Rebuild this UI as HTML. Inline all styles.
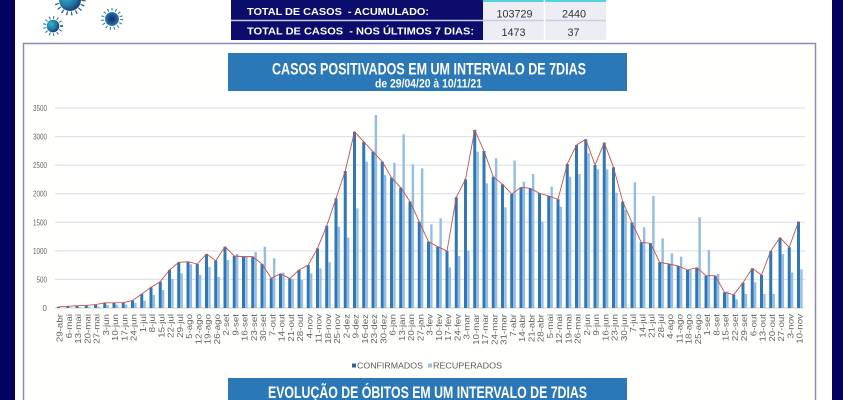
<!DOCTYPE html>
<html><head><meta charset="utf-8"><style>
html,body{margin:0;padding:0;background:#fff;width:843px;height:400px;overflow:hidden}
svg{display:block}
text{font-family:"Liberation Sans",Arial,sans-serif}
.xl{font-size:8px;fill:#626262;text-anchor:end}
.yl{font-size:8px;fill:#666;text-anchor:end}
</style></head><body>
<svg width="843" height="400" viewBox="0 0 843 400" xmlns="http://www.w3.org/2000/svg" overflow="hidden">
<defs>
<radialGradient id="vg" cx="0.35" cy="0.35" r="0.75">
<stop offset="0" stop-color="#3bb3c8"/><stop offset="0.55" stop-color="#1f7aa6"/><stop offset="1" stop-color="#1a2f72"/>
</radialGradient>
<radialGradient id="vg2" cx="0.5" cy="0.5" r="0.6">
<stop offset="0" stop-color="#1a2a6e"/><stop offset="0.6" stop-color="#1d5f98"/><stop offset="1" stop-color="#38a8c4"/>
</radialGradient>
</defs>
<rect x="0" y="0" width="843" height="400" fill="#fff"/>
<rect x="0" y="0" width="15" height="400" fill="#03035f"/>
<rect x="832" y="0" width="11" height="400" fill="#03035f"/>

<!-- viruses -->
<circle cx="70" cy="0" r="13.5" fill="none" stroke="#1f5f8e" stroke-width="4" stroke-dasharray="1.2 3.5"/>
<circle cx="70" cy="0" r="11" fill="url(#vg)"/>
<circle cx="53" cy="26" r="8.5" fill="none" stroke="#2a6f98" stroke-width="3" stroke-dasharray="1 3"/>
<circle cx="53" cy="26" r="6.3" fill="url(#vg)"/>
<circle cx="112" cy="19" r="9.5" fill="none" stroke="#2a7aa0" stroke-width="3" stroke-dasharray="1 3"/>
<circle cx="112" cy="19" r="7" fill="url(#vg2)"/>

<!-- table -->
<rect x="231" y="0" width="252" height="40" fill="#0c0c6c"/>
<rect x="483" y="0" width="123" height="40" fill="#eceef3"/>
<rect x="483" y="0" width="123" height="2" fill="#4fd3e3"/>
<line x1="231" y1="20.5" x2="606" y2="20.5" stroke="#c8cce0" stroke-width="1.5"/>
<line x1="544.5" y1="0" x2="544.5" y2="40" stroke="#fff" stroke-width="1.5"/>
<text x="247" y="15" font-size="10.5" font-weight="bold" fill="#fff" textLength="182" lengthAdjust="spacingAndGlyphs">TOTAL DE CASOS&#160; - ACUMULADO:</text>
<text x="247" y="34.5" font-size="10.5" font-weight="bold" fill="#fff" textLength="227" lengthAdjust="spacingAndGlyphs">TOTAL DE CASOS&#160; - NOS ÚLTIMOS 7 DIAS:</text>
<text x="514.5" y="17.3" font-size="10.8" fill="#333" text-anchor="middle">103729</text>
<text x="574" y="17.3" font-size="10.8" fill="#333" text-anchor="middle">2440</text>
<text x="513.5" y="36" font-size="10.8" fill="#333" text-anchor="middle">1473</text>
<text x="573.5" y="36" font-size="10.8" fill="#333" text-anchor="middle">37</text>

<!-- frame -->
<rect x="23.5" y="43.5" width="792" height="356.5" fill="#fffffd"/>
<path d="M23.5 400 V43.5 H815.5 V400" fill="none" stroke="#8a8ab8" stroke-width="1.5"/>

<!-- title -->
<rect x="228" y="53" width="399" height="38" fill="#2a78b8"/>
<text x="429" y="74.5" font-size="16.5" font-weight="bold" fill="#fff" text-anchor="middle" textLength="314" lengthAdjust="spacingAndGlyphs">CASOS POSITIVADOS EM UM INTERVALO DE 7DIAS</text>
<text x="428.5" y="87.5" font-size="12" font-weight="bold" fill="#fff" text-anchor="middle" textLength="107" lengthAdjust="spacingAndGlyphs">de 29/04/20 à 10/11/21</text>

<!-- gridlines -->
<g stroke="#d6deea" stroke-width="1">
<line x1="55" x2="805" y1="108" y2="108"/>
<line x1="55" x2="805" y1="136.57" y2="136.57"/>
<line x1="55" x2="805" y1="165.14" y2="165.14"/>
<line x1="55" x2="805" y1="193.71" y2="193.71"/>
<line x1="55" x2="805" y1="222.29" y2="222.29"/>
<line x1="55" x2="805" y1="250.86" y2="250.86"/>
<line x1="55" x2="805" y1="279.43" y2="279.43"/>
<line x1="55" x2="805" y1="308" y2="308" stroke="#d0d0d0"/>
</g>
<g class="yl">
<text class="yl" x="47" y="111" textLength="14" lengthAdjust="spacingAndGlyphs">3500</text>
<text class="yl" x="47" y="139.6" textLength="14" lengthAdjust="spacingAndGlyphs">3000</text>
<text class="yl" x="47" y="168.1" textLength="14" lengthAdjust="spacingAndGlyphs">2500</text>
<text class="yl" x="47" y="196.7" textLength="14" lengthAdjust="spacingAndGlyphs">2000</text>
<text class="yl" x="47" y="225.3" textLength="14" lengthAdjust="spacingAndGlyphs">1500</text>
<text class="yl" x="47" y="253.9" textLength="14" lengthAdjust="spacingAndGlyphs">1000</text>
<text class="yl" x="47" y="282.4" textLength="10.5" lengthAdjust="spacingAndGlyphs">500</text>
<text class="yl" x="47" y="311">0</text>
</g>

<g id="bars"></g>

<!-- x labels -->
<g>
<text class="xl" transform="translate(62.5,314) rotate(-90) scale(1.22,1)">29-abr</text>
<text class="xl" transform="translate(71.75,314) rotate(-90) scale(1.22,1)">6-mai</text>
<text class="xl" transform="translate(81,314) rotate(-90) scale(1.22,1)">13-mai</text>
<text class="xl" transform="translate(90.25,314) rotate(-90) scale(1.22,1)">20-mai</text>
<text class="xl" transform="translate(99.5,314) rotate(-90) scale(1.22,1)">27-mai</text>
<text class="xl" transform="translate(108.75,314) rotate(-90) scale(1.22,1)">3-jun</text>
<text class="xl" transform="translate(118,314) rotate(-90) scale(1.22,1)">10-jun</text>
<text class="xl" transform="translate(127.25,314) rotate(-90) scale(1.22,1)">17-jun</text>
<text class="xl" transform="translate(136.5,314) rotate(-90) scale(1.22,1)">24-jun</text>
<text class="xl" transform="translate(145.75,314) rotate(-90) scale(1.22,1)">1-jul</text>
<text class="xl" transform="translate(155,314) rotate(-90) scale(1.22,1)">8-jul</text>
<text class="xl" transform="translate(164.25,314) rotate(-90) scale(1.22,1)">15-jul</text>
<text class="xl" transform="translate(173.5,314) rotate(-90) scale(1.22,1)">22-jul</text>
<text class="xl" transform="translate(182.75,314) rotate(-90) scale(1.22,1)">29-jul</text>
<text class="xl" transform="translate(192,314) rotate(-90) scale(1.22,1)">5-ago</text>
<text class="xl" transform="translate(201.25,314) rotate(-90) scale(1.22,1)">12-ago</text>
<text class="xl" transform="translate(210.5,314) rotate(-90) scale(1.22,1)">19-ago</text>
<text class="xl" transform="translate(219.75,314) rotate(-90) scale(1.22,1)">26-ago</text>
<text class="xl" transform="translate(229,314) rotate(-90) scale(1.22,1)">2-set</text>
<text class="xl" transform="translate(238.25,314) rotate(-90) scale(1.22,1)">9-set</text>
<text class="xl" transform="translate(247.5,314) rotate(-90) scale(1.22,1)">16-set</text>
<text class="xl" transform="translate(256.75,314) rotate(-90) scale(1.22,1)">23-set</text>
<text class="xl" transform="translate(266,314) rotate(-90) scale(1.22,1)">30-set</text>
<text class="xl" transform="translate(275.25,314) rotate(-90) scale(1.22,1)">7-out</text>
<text class="xl" transform="translate(284.5,314) rotate(-90) scale(1.22,1)">14-out</text>
<text class="xl" transform="translate(293.75,314) rotate(-90) scale(1.22,1)">21-out</text>
<text class="xl" transform="translate(303,314) rotate(-90) scale(1.22,1)">28-out</text>
<text class="xl" transform="translate(312.25,314) rotate(-90) scale(1.22,1)">4-nov</text>
<text class="xl" transform="translate(321.5,314) rotate(-90) scale(1.22,1)">11-nov</text>
<text class="xl" transform="translate(330.75,314) rotate(-90) scale(1.22,1)">18-nov</text>
<text class="xl" transform="translate(340,314) rotate(-90) scale(1.22,1)">25-nov</text>
<text class="xl" transform="translate(349.25,314) rotate(-90) scale(1.22,1)">2-dez</text>
<text class="xl" transform="translate(358.5,314) rotate(-90) scale(1.22,1)">9-dez</text>
<text class="xl" transform="translate(367.75,314) rotate(-90) scale(1.22,1)">16-dez</text>
<text class="xl" transform="translate(377,314) rotate(-90) scale(1.22,1)">23-dez</text>
<text class="xl" transform="translate(386.25,314) rotate(-90) scale(1.22,1)">30-dez</text>
<text class="xl" transform="translate(395.5,314) rotate(-90) scale(1.22,1)">6-jan</text>
<text class="xl" transform="translate(404.75,314) rotate(-90) scale(1.22,1)">13-jan</text>
<text class="xl" transform="translate(414,314) rotate(-90) scale(1.22,1)">20-jan</text>
<text class="xl" transform="translate(423.25,314) rotate(-90) scale(1.22,1)">27-jan</text>
<text class="xl" transform="translate(432.5,314) rotate(-90) scale(1.22,1)">3-fev</text>
<text class="xl" transform="translate(441.75,314) rotate(-90) scale(1.22,1)">10-fev</text>
<text class="xl" transform="translate(451,314) rotate(-90) scale(1.22,1)">17-fev</text>
<text class="xl" transform="translate(460.25,314) rotate(-90) scale(1.22,1)">24-fev</text>
<text class="xl" transform="translate(469.5,314) rotate(-90) scale(1.22,1)">3-mar</text>
<text class="xl" transform="translate(478.75,314) rotate(-90) scale(1.22,1)">10-mar</text>
<text class="xl" transform="translate(488,314) rotate(-90) scale(1.22,1)">17-mar</text>
<text class="xl" transform="translate(497.25,314) rotate(-90) scale(1.22,1)">24-mar</text>
<text class="xl" transform="translate(506.5,314) rotate(-90) scale(1.22,1)">31-mar</text>
<text class="xl" transform="translate(515.75,314) rotate(-90) scale(1.22,1)">7-abr</text>
<text class="xl" transform="translate(525,314) rotate(-90) scale(1.22,1)">14-abr</text>
<text class="xl" transform="translate(534.25,314) rotate(-90) scale(1.22,1)">21-abr</text>
<text class="xl" transform="translate(543.5,314) rotate(-90) scale(1.22,1)">28-abr</text>
<text class="xl" transform="translate(552.75,314) rotate(-90) scale(1.22,1)">5-mai</text>
<text class="xl" transform="translate(562,314) rotate(-90) scale(1.22,1)">12-mai</text>
<text class="xl" transform="translate(571.25,314) rotate(-90) scale(1.22,1)">19-mai</text>
<text class="xl" transform="translate(580.5,314) rotate(-90) scale(1.22,1)">26-mai</text>
<text class="xl" transform="translate(589.75,314) rotate(-90) scale(1.22,1)">2-jun</text>
<text class="xl" transform="translate(599,314) rotate(-90) scale(1.22,1)">9-jun</text>
<text class="xl" transform="translate(608.25,314) rotate(-90) scale(1.22,1)">16-jun</text>
<text class="xl" transform="translate(617.5,314) rotate(-90) scale(1.22,1)">23-jun</text>
<text class="xl" transform="translate(626.75,314) rotate(-90) scale(1.22,1)">30-jun</text>
<text class="xl" transform="translate(636,314) rotate(-90) scale(1.22,1)">7-jul</text>
<text class="xl" transform="translate(645.25,314) rotate(-90) scale(1.22,1)">14-jul</text>
<text class="xl" transform="translate(654.5,314) rotate(-90) scale(1.22,1)">21-jul</text>
<text class="xl" transform="translate(663.75,314) rotate(-90) scale(1.22,1)">28-jul</text>
<text class="xl" transform="translate(673,314) rotate(-90) scale(1.22,1)">4-ago</text>
<text class="xl" transform="translate(682.25,314) rotate(-90) scale(1.22,1)">11-ago</text>
<text class="xl" transform="translate(691.5,314) rotate(-90) scale(1.22,1)">18-ago</text>
<text class="xl" transform="translate(700.75,314) rotate(-90) scale(1.22,1)">25-ago</text>
<text class="xl" transform="translate(710,314) rotate(-90) scale(1.22,1)">1-set</text>
<text class="xl" transform="translate(719.25,314) rotate(-90) scale(1.22,1)">8-set</text>
<text class="xl" transform="translate(728.5,314) rotate(-90) scale(1.22,1)">15-set</text>
<text class="xl" transform="translate(737.75,314) rotate(-90) scale(1.22,1)">22-set</text>
<text class="xl" transform="translate(747,314) rotate(-90) scale(1.22,1)">29-set</text>
<text class="xl" transform="translate(756.25,314) rotate(-90) scale(1.22,1)">6-out</text>
<text class="xl" transform="translate(765.5,314) rotate(-90) scale(1.22,1)">13-out</text>
<text class="xl" transform="translate(774.75,314) rotate(-90) scale(1.22,1)">20-out</text>
<text class="xl" transform="translate(784,314) rotate(-90) scale(1.22,1)">27-out</text>
<text class="xl" transform="translate(793.25,314) rotate(-90) scale(1.22,1)">3-nov</text>
<text class="xl" transform="translate(802.5,314) rotate(-90) scale(1.22,1)">10-nov</text>
</g>

<!-- legend -->
<rect x="352" y="363.5" width="4" height="4" fill="#2f5fa0"/>
<text x="357" y="368.3" font-size="8.5" fill="#595959" textLength="66" lengthAdjust="spacingAndGlyphs">CONFIRMADOS</text>
<rect x="428" y="363.5" width="4" height="4" fill="#a9bdd6"/>
<text x="433" y="368.3" font-size="8.5" fill="#595959" textLength="69" lengthAdjust="spacingAndGlyphs">RECUPERADOS</text>

<!-- second title -->
<rect x="228" y="378" width="399" height="22" fill="#2a78b8"/>
<text x="427.5" y="398" font-size="16.5" font-weight="bold" fill="#fff" text-anchor="middle" textLength="319" lengthAdjust="spacingAndGlyphs">EVOLUÇÃO DE ÓBITOS EM UM INTERVALO DE 7DIAS</text>
</svg>
<script>
(function(){
var C=[20,30,40,45,60,90,90,95,130,245,362,460,665,800,810,770,945,828,1073,910,899,899,770,520,600,515,665,752,1044,1440,1919,2397,3085,2910,2736,2561,2281,2106,1861,1511,1161,1073,997,1937,2252,3115,2747,2298,2164,1995,2112,2094,2007,1960,1902,2520,2852,2952,2502,2893,2462,1861,1493,1149,1132,800,770,735,665,706,566,566,274,233,443,694,578,997,1231,1061,1511];
var R=[0,10,15,20,30,50,60,60,90,128,227,315,507,607,765,580,720,543,840,945,899,980,1073,870,620,505,490,607,694,800,1423,1231,1744,2561,3377,2327,2543,3039,2514,2444,1464,1569,712,910,1003,2736,2182,2619,1762,2580,2211,2345,1511,2123,1773,2298,2345,2707,2427,2427,2018,1715,2199,1412,1960,1219,957,899,665,1587,1015,595,290,152,245,450,245,245,945,620,677];
var s='',pts=[];
for(var i=0;i<C.length;i++){
 var c=60+9.25*i;
 var yc=308-C[i]/17.5, yr=308-R[i]/17.5;
 s+='<rect x="'+(c-3)+'" y="'+yc.toFixed(2)+'" width="3" height="'+(308-yc).toFixed(2)+'" fill="#2f77b8"/>';
 if(R[i]>0) s+='<rect x="'+(c+0.2)+'" y="'+yr.toFixed(2)+'" width="2.4" height="'+(308-yr).toFixed(2)+'" fill="#94bde3"/>';
 pts.push((c-1.5).toFixed(2)+','+yc.toFixed(2));
}
s+='<polyline points="'+pts.join(' ')+'" fill="none" stroke="#cc5048" stroke-width="0.9" stroke-linejoin="round"/>';
document.getElementById('bars').innerHTML=s;
})();
</script>
</body></html>
